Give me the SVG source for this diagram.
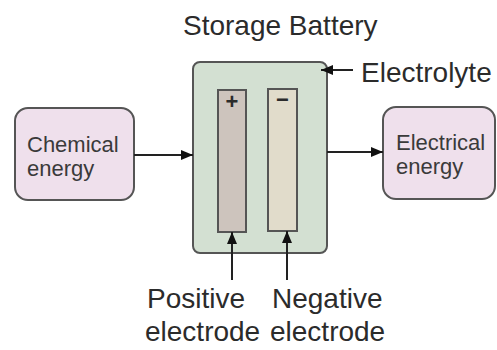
<svg xmlns="http://www.w3.org/2000/svg" width="497" height="350" viewBox="0 0 497 350">
<style>
text{font-family:"Liberation Sans",Arial,sans-serif;fill:#2b2b2b}
.lbl{font-size:28px}
.nt{font-size:22px;fill:#3a3a3a}
.sign{font-size:22px;font-weight:bold;text-anchor:middle}
.energy{fill:#efe0ec;stroke:#555;stroke-width:2}
.conn{stroke:#222;stroke-width:2;fill:none}
</style>
<defs>
<marker id="ah" viewBox="0 0 12 10" refX="12" refY="5" markerWidth="12" markerHeight="10" markerUnits="userSpaceOnUse" orient="auto">
<path d="M0,0 L12,5 L0,10 Z" fill="#111"/>
</marker>
</defs>
<rect width="497" height="350" fill="#fff"/>
<text class="lbl" x="183" y="35">Storage Battery</text>
<g id="battery">
<rect x="193" y="62" width="134" height="191" rx="7" fill="#d3e0d2" stroke="#555" stroke-width="2"/>
</g>
<g id="positive-electrode">
<rect x="218" y="90" width="28" height="142" fill="#cdc4bd" stroke="#555" stroke-width="2"/>
<text class="sign" x="232" y="109">+</text>
</g>
<g id="negative-electrode">
<rect x="268" y="89" width="29" height="142" fill="#e1dccb" stroke="#555" stroke-width="2"/>
<text class="sign" x="282.5" y="107">−</text>
</g>
<g id="chemical">
<rect class="energy" x="15" y="108" width="119" height="92" rx="13"/>
<text class="nt" x="27" y="152">Chemical</text>
<text class="nt" x="27" y="176">energy</text>
</g>
<g id="electrical">
<rect class="energy" x="383" y="107" width="112" height="92" rx="13"/>
<text class="nt" x="396" y="150">Electrical</text>
<text class="nt" x="396" y="174">energy</text>
</g>
<g id="electrolyte-label">
<text class="lbl" x="361" y="82">Electrolyte</text>
</g>
<g id="positive-label">
<text class="lbl" x="147" y="308">Positive</text>
<text class="lbl" x="145" y="341">electrode</text>
</g>
<g id="negative-label">
<text class="lbl" x="272" y="308">Negative</text>
<text class="lbl" x="270" y="341">electrode</text>
</g>
<g id="connectors">
<line class="conn" x1="134" y1="155" x2="193" y2="155" marker-end="url(#ah)"/>
<line class="conn" x1="327" y1="152" x2="383" y2="152" marker-end="url(#ah)"/>
<line class="conn" x1="353" y1="70" x2="321" y2="70" marker-end="url(#ah)"/>
<line class="conn" x1="232" y1="280" x2="232" y2="232" marker-end="url(#ah)"/>
<line class="conn" x1="287" y1="280" x2="287" y2="231" marker-end="url(#ah)"/>
</g>
</svg>
